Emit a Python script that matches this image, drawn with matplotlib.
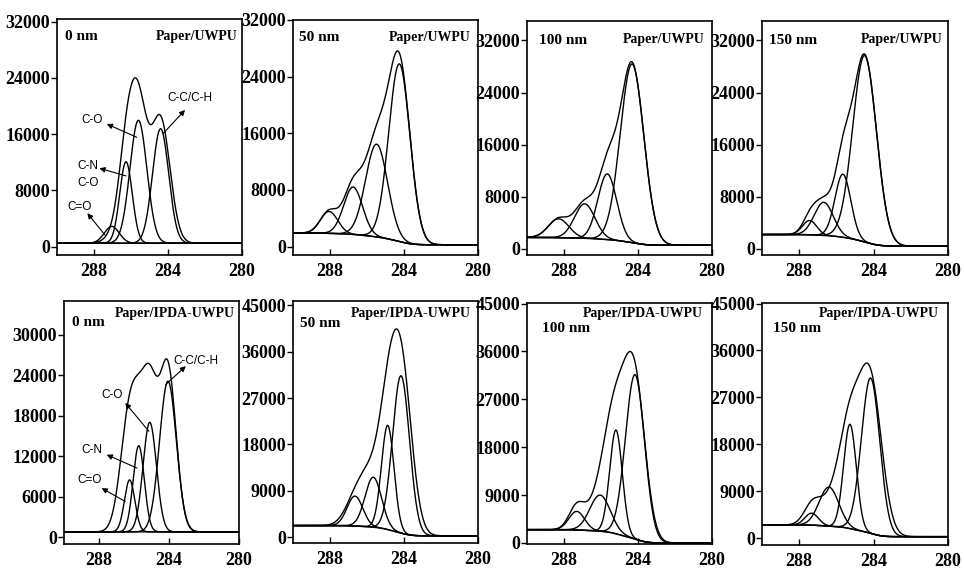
import numpy as np
import matplotlib.pyplot as plt

plt.rcParams['font.family'] = ['Liberation Serif', 'DejaVu Serif']

depths = ['0 nm', '50 nm', '100 nm', '150 nm']

# C1s fitted components, high to low binding energy: C=O, C-N/C-O, C-O, C-C/C-H
# centre (eV), height above background (counts), FWHM (eV)
uwpu_center = [[287.04, 286.27, 285.60, 284.40],
               [288.05, 286.75, 285.48, 284.25],
               [288.29, 286.88, 285.66, 284.32],
               [287.44, 286.68, 285.65, 284.48]]
uwpu_height = [[2400, 11600, 17500, 16300],
               [3100, 6700, 13100, 25100],
               [2900, 5300, 10100, 27500],
               [2200, 5100, 9700, 28700]]
uwpu_fwhm = [[0.95, 0.8, 1.08, 1.03],
             [1.1, 1.2, 1.4, 1.35],
             [1.3, 1.3, 1.2, 1.5],
             [0.9, 1.2, 1.0, 1.5]]
# measured envelope, described on the same centres
uwpu_env_height = [[800, 11500, 18500, 17500],
                   [3100, 6700, 13100, 25100],
                   [2900, 5300, 10100, 27500],
                   [2200, 5100, 9700, 28700]]
uwpu_env_fwhm = [[1.0, 1.0, 1.1, 1.2],
                 [1.1, 1.2, 1.4, 1.35],
                 [1.3, 1.3, 1.2, 1.5],
                 [0.9, 1.2, 1.0, 1.5]]
uwpu_bg = [(480, 480), (1900, 250), (1700, 500), (2150, 360)]   # (high BE side, low BE side)
uwpu_ylim = [(-1200, 32400), (-1200, 32000), (-1000, 35000), (-1000, 35000)]
uwpu_yticks = [0, 8000, 16000, 24000, 32000]

ipda_center = [[286.25, 285.73, 285.10, 284.06],
               [286.65, 285.66, 284.88, 284.16],
               [287.31, 286.05, 285.19, 284.16],
               [287.33, 286.40, 285.27, 284.16]]
ipda_height = [[7700, 12760, 16230, 22320],
               [5800, 9700, 20200, 30500],
               [3500, 6800, 19500, 30900],
               [2300, 7500, 20000, 29800]]
ipda_fwhm = [[0.7, 0.75, 0.9, 1.13],
             [1.0, 1.05, 0.8, 1.08],
             [1.0, 1.3, 0.8, 1.22],
             [0.85, 1.24, 0.8, 1.16]]
ipda_env_height = [[17580, 5600, 20000, 24000],
                   [4000, 10500, 13440, 32500],
                   [4200, 5000, 21000, 28100],
                   [3000, 4500, 18800, 28750]]
ipda_env_fwhm = [[1.2, 0.9, 1.05, 1.1],
                 [1.3, 1.6, 1.09, 1.31],
                 [1.0, 1.6, 1.44, 1.31],
                 [1.0, 1.6, 1.34, 1.4]]
ipda_bg = [(800, 800), (2280, 300), (2500, 0), (2550, 300)]
ipda_ylim = [(-1000, 35000), (-1100, 45800), (-200, 45100), (-1300, 45100)]
ipda_yticks = [[0, 6000, 12000, 18000, 24000, 30000]] + [[0, 9000, 18000, 27000, 36000, 45000]] * 3

# peak labels on the 0 nm spectra: text, text position, arrow head, arrow tail
uwpu_notes = [('C-O', (288.12, 18000), (287.31, 17450), (285.69, 15560)),
              ('C-N\nC-O', (288.33, 10300), (287.71, 11150), (286.27, 10060)),
              ('C=O', (288.76, 5690), (288.36, 4750), (287.41, 1660)),
              ('C-C/C-H', (282.81, 21100), (283.08, 19450), (284.25, 16130))]
ipda_notes = [('C-O', (287.27, 21140), (286.5, 19900), (285.15, 15700)),
              ('C-N', (288.42, 12970), (287.56, 12230), (285.83, 10250)),
              ('C=O', (288.52, 8510), (287.85, 7280), (286.5, 5300)),
              ('C-C/C-H', (282.48, 26090), (283.04, 25350), (284.19, 22620))]

# axes rectangles in pixels (left, right, top, bottom) on a 964x569 canvas
W, H = 964, 569
top_boxes = [(57, 242, 19, 255), (293, 478, 20, 255), (527, 712, 21, 255), (762, 948, 21, 255)]
bottom_boxes = [(64, 239, 301, 544), (293, 478, 301, 543), (527, 712, 303, 544), (762, 948, 303, 545)]
label_pos = {'UWPU': [((0.045, 0.925), (0.975, 0.925)), ((0.03, 0.925), (0.96, 0.925)),
                      ((0.065, 0.915), (0.96, 0.92)), ((0.035, 0.915), (0.97, 0.92))],
             'IPDA': [((0.045, 0.91), (0.977, 0.95)), ((0.04, 0.905), (0.96, 0.95)),
                      ((0.08, 0.895), (0.95, 0.955)), ((0.06, 0.895), (0.95, 0.955))]}


def gauss(x, c, h, fwhm):
    s = fwhm / 2.3548
    return h * np.exp(-0.5 * ((x - c) / s) ** 2)


def draw_panel(ax, centers, heights, widths, env_h, env_w, bg, ylim, yticks, depth, sample, pos, notes):
    x = np.linspace(290, 280, 1500)
    comps = [gauss(x, c, h, w) for c, h, w in zip(centers, heights, widths)]
    fit = np.sum(comps, axis=0)
    env = np.sum([gauss(x, c, h, w) for c, h, w in zip(centers, env_h, env_w)], axis=0)
    # Shirley-type background: steps up with the peak area on the low BE side
    area = np.cumsum(fit[::-1])[::-1]
    base = bg[1] + (bg[0] - bg[1]) * area / area[0]
    ax.plot(x, base, color='black', lw=1.0)
    for comp in comps:
        ax.plot(x, comp + base, color='black', lw=1.0)
    ax.plot(x, env + base, color='black', lw=1.0)

    ax.set_xlim(290, 280)
    ax.set_ylim(*ylim)
    ax.set_xticks([288, 284, 280])
    ax.set_yticks(yticks)
    ax.tick_params(axis='x', direction='in', length=4, width=1.0, labelsize=13, pad=6)
    ax.tick_params(axis='y', direction='out', length=4, width=1.0, labelsize=13, pad=1)
    for lab in ax.get_xticklabels() + ax.get_yticklabels():
        lab.set_fontweight('bold')
    for sp in ax.spines.values():
        sp.set_linewidth(1.2)

    ax.text(*pos[0], depth, transform=ax.transAxes, fontsize=11, fontweight='bold', ha='left', va='center')
    ax.text(*pos[1], sample, transform=ax.transAxes, fontsize=10, fontweight='bold', ha='right', va='center')

    for txt, txy, head, tail in notes:
        ax.text(*txy, txt, fontsize=8.5, family=['Liberation Sans', 'DejaVu Sans'],
                ha='center', va='center', linespacing=1.6)
        ax.annotate('', xy=head, xytext=tail,
                    arrowprops=dict(arrowstyle='-|>', color='black', lw=0.8, mutation_scale=8,
                                    shrinkA=0, shrinkB=0))


fig = plt.figure(figsize=(W / 100, H / 100), dpi=100)

for i in range(4):
    l, r, t, b = top_boxes[i]
    ax = fig.add_axes([l / W, 1 - b / H, (r - l) / W, (b - t) / H])
    draw_panel(ax, uwpu_center[i], uwpu_height[i], uwpu_fwhm[i], uwpu_env_height[i], uwpu_env_fwhm[i],
               uwpu_bg[i], uwpu_ylim[i], uwpu_yticks, depths[i], 'Paper/UWPU', label_pos['UWPU'][i],
               uwpu_notes if i == 0 else [])

for i in range(4):
    l, r, t, b = bottom_boxes[i]
    ax = fig.add_axes([l / W, 1 - b / H, (r - l) / W, (b - t) / H])
    draw_panel(ax, ipda_center[i], ipda_height[i], ipda_fwhm[i], ipda_env_height[i], ipda_env_fwhm[i],
               ipda_bg[i], ipda_ylim[i], ipda_yticks[i], depths[i], 'Paper/IPDA-UWPU', label_pos['IPDA'][i],
               ipda_notes if i == 0 else [])

fig.savefig('out.png', dpi=100)
